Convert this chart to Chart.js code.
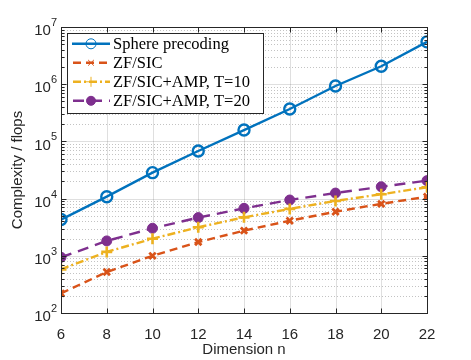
<!DOCTYPE html>
<html>
<head>
<meta charset="utf-8">
<script src="https://cdn.jsdelivr.net/npm/chart.js@4.4.0/dist/chart.umd.min.js"></script>
<style>
  html, body { margin: 0; padding: 0; background: #fff; }
</style>
</head>
<body>
<canvas id="myChart" width="471" height="360"></canvas>
<script>
// data
const dims = [6, 8, 10, 12, 14, 16, 18, 20, 22];
const sphere = [4300, 10800, 28400, 68000, 158000, 368000, 930000, 2060000, 5500000];
const zfsic = [220, 520, 1000, 1740, 2750, 4100, 5900, 8100, 10800];
const amp10 = [580, 1170, 1990, 3150, 4700, 6600, 9100, 11900, 15800];
const amp20 = [940, 1820, 3030, 4650, 6750, 9450, 12500, 16100, 20600];
const xTicks = [6, 8, 10, 12, 14, 16, 18, 20, 22];
const yExps = [2, 3, 4, 5, 6, 7];

const axisColor = "#262626";
const sans = '"Liberation Sans", Arial, sans-serif';
const serif = '"Liberation Serif", "Times New Roman", serif';

const toPts = (arr) => dims.map((d, i) => ({ x: d, y: arr[i] }));

const datasets = [
  {
    label: "Sphere precoding",
    data: toPts(sphere),
    borderColor: "#0072BD",
    backgroundColor: "rgba(0,0,0,0)",
    borderWidth: 2.4,
    pointStyle: "circle",
    pointRadius: 5.5,
    pointBorderWidth: 2.4,
    borderDash: [],
  },
  {
    label: "ZF/SIC",
    data: toPts(zfsic),
    borderColor: "#D95319",
    backgroundColor: "#D95319",
    borderWidth: 2.4,
    pointStyle: "crossRot",
    pointRadius: 4.5,
    pointBorderWidth: 2.8,
    borderDash: [8, 5],
  },
  {
    label: "ZF/SIC+AMP, T=10",
    data: toPts(amp10),
    borderColor: "#EDB120",
    backgroundColor: "#EDB120",
    borderWidth: 2.4,
    pointStyle: "cross",
    pointRadius: 5.5,
    pointBorderWidth: 2.6,
    borderDash: [8, 3, 2, 3],
  },
  {
    label: "ZF/SIC+AMP, T=20",
    data: toPts(amp20),
    borderColor: "#7E2F8E",
    backgroundColor: "#7E2F8E",
    borderWidth: 2.4,
    pointStyle: "circle",
    pointRadius: 5,
    pointBorderWidth: 1,
    borderDash: [11, 7],
  },
];

const line = (ctx, x1, y1, x2, y2) => {
  ctx.beginPath();
  ctx.moveTo(x1, y1);
  ctx.lineTo(x2, y2);
  ctx.stroke();
};

// matlab-like grid, box, ticks, y labels and legend
const matlabAxes = {
  id: "matlabAxes",
  beforeDatasetsDraw(chart) {
    const { ctx, chartArea: a, scales: { x, y } } = chart;
    ctx.save();
    ctx.lineWidth = 1;
    ctx.strokeStyle = "rgba(38,38,38,0.28)";
    ctx.setLineDash([1, 2]);
    yExps.slice(0, -1).forEach((e) => {
      for (let k = 2; k < 10; k++) {
        const py = Math.round(y.getPixelForValue(k * 10 ** e)) + 0.5;
        line(ctx, a.left, py, a.right, py);
      }
    });
    ctx.setLineDash([]);
    ctx.strokeStyle = "rgba(38,38,38,0.15)";
    yExps.forEach((e) => {
      const py = Math.round(y.getPixelForValue(10 ** e)) + 0.5;
      line(ctx, a.left, py, a.right, py);
    });
    xTicks.forEach((t) => {
      const px = Math.round(x.getPixelForValue(t)) + 0.5;
      line(ctx, px, a.top, px, a.bottom);
    });
    ctx.restore();
  },
  afterDatasetsDraw(chart) {
    const { ctx, chartArea: a, scales: { x, y } } = chart;
    ctx.save();
    ctx.strokeStyle = axisColor;
    ctx.lineWidth = 1;
    const L = Math.round(a.left) + 0.5, R = Math.round(a.right) + 0.5;
    const T = Math.round(a.top) + 0.5, B = Math.round(a.bottom) + 0.5;
    ctx.strokeRect(L, T, R - L, B - T);

    // ticks pointing in, on all four sides
    xTicks.forEach((t) => {
      const px = Math.round(x.getPixelForValue(t)) + 0.5;
      line(ctx, px, B, px, B - 5);
      line(ctx, px, T, px, T + 5);
    });
    yExps.forEach((e) => {
      const py = Math.round(y.getPixelForValue(10 ** e)) + 0.5;
      line(ctx, L, py, L + 5, py);
      line(ctx, R, py, R - 5, py);
      if (e < 7) {
        for (let k = 2; k < 10; k++) {
          const q = Math.round(y.getPixelForValue(k * 10 ** e)) + 0.5;
          line(ctx, L, q, L + 3, q);
          line(ctx, R, q, R - 3, q);
        }
      }
    });

    // y tick labels 10^e
    ctx.fillStyle = axisColor;
    ctx.textBaseline = "middle";
    ctx.textAlign = "left";
    yExps.forEach((e) => {
      const py = y.getPixelForValue(10 ** e);
      ctx.font = "11px " + sans;
      const ew = ctx.measureText(String(e)).width;
      ctx.font = "15px " + sans;
      const bw = ctx.measureText("10").width;
      const x0 = 57 - ew - bw;
      ctx.fillText("10", x0, py + 4);
      ctx.font = "11px " + sans;
      ctx.fillText(String(e), x0 + bw, py - 4);
    });

    // legend box
    const lx = 67.5, ly = 33.5, lw = 196, lh = 80;
    ctx.fillStyle = "#fff";
    ctx.fillRect(lx, ly, lw, lh);
    ctx.strokeStyle = axisColor;
    ctx.strokeRect(lx, ly, lw, lh);
    chart.data.datasets.forEach((ds, i) => {
      const cy = 43.8 + i * 19;
      ctx.save();
      ctx.strokeStyle = ds.borderColor;
      ctx.lineWidth = ds.borderWidth;
      ctx.setLineDash(ds.borderDash);
      ctx.lineDashOffset = ds.borderDash.length ? -1 : 0;
      line(ctx, 72, cy, 110, cy);
      ctx.restore();
      ctx.save();
      ctx.strokeStyle = ds.borderColor;
      ctx.fillStyle = ds.backgroundColor;
      Chart.helpers.drawPoint(ctx, {
        pointStyle: ds.pointStyle,
        radius: ds.pointRadius - 0.5,
        borderWidth: ds.pointBorderWidth,
        rotation: 0,
      }, 91, cy);
      ctx.restore();
      ctx.fillStyle = "#000";
      ctx.font = "16.5px " + serif;
      ctx.textAlign = "left";
      ctx.textBaseline = "middle";
      ctx.fillText(ds.label, 113, cy + 1);
    });
    ctx.restore();
  },
};

const config = {
  type: "line",
  data: { datasets: datasets },
  options: {
    responsive: false,
    animation: false,
    layout: { padding: { left: 0, right: 44, top: 27, bottom: 0 } },
    plugins: { legend: { display: false }, tooltip: { enabled: false } },
    scales: {
      x: {
        type: "linear",
        min: 6,
        max: 22,
        grid: { display: false },
        border: { display: false },
        afterBuildTicks: (s) => { s.ticks = xTicks.map((v) => ({ value: v })); },
        afterFit: (s) => { s.height = 47; },
        ticks: {
          font: { family: sans, size: 15 },
          color: axisColor,
          padding: 5,
          maxRotation: 0,
        },
        title: {
          display: true,
          text: "Dimension n",
          font: { family: sans, size: 15 },
          color: axisColor,
          padding: { top: 0, bottom: 1 },
        },
      },
      y: {
        type: "logarithmic",
        min: 100,
        max: 1e7,
        grid: { display: false },
        border: { display: false },
        ticks: { display: false },
        afterFit: (s) => { s.width = 61; },
        title: {
          display: true,
          text: "Complexity / flops",
          font: { family: sans, size: 15 },
          color: axisColor,
          padding: { top: 9, bottom: 0 },
        },
      },
    },
  },
  plugins: [matlabAxes],
};

const myChart = new Chart(document.getElementById("myChart"), config);
</script>
</body>
</html>
